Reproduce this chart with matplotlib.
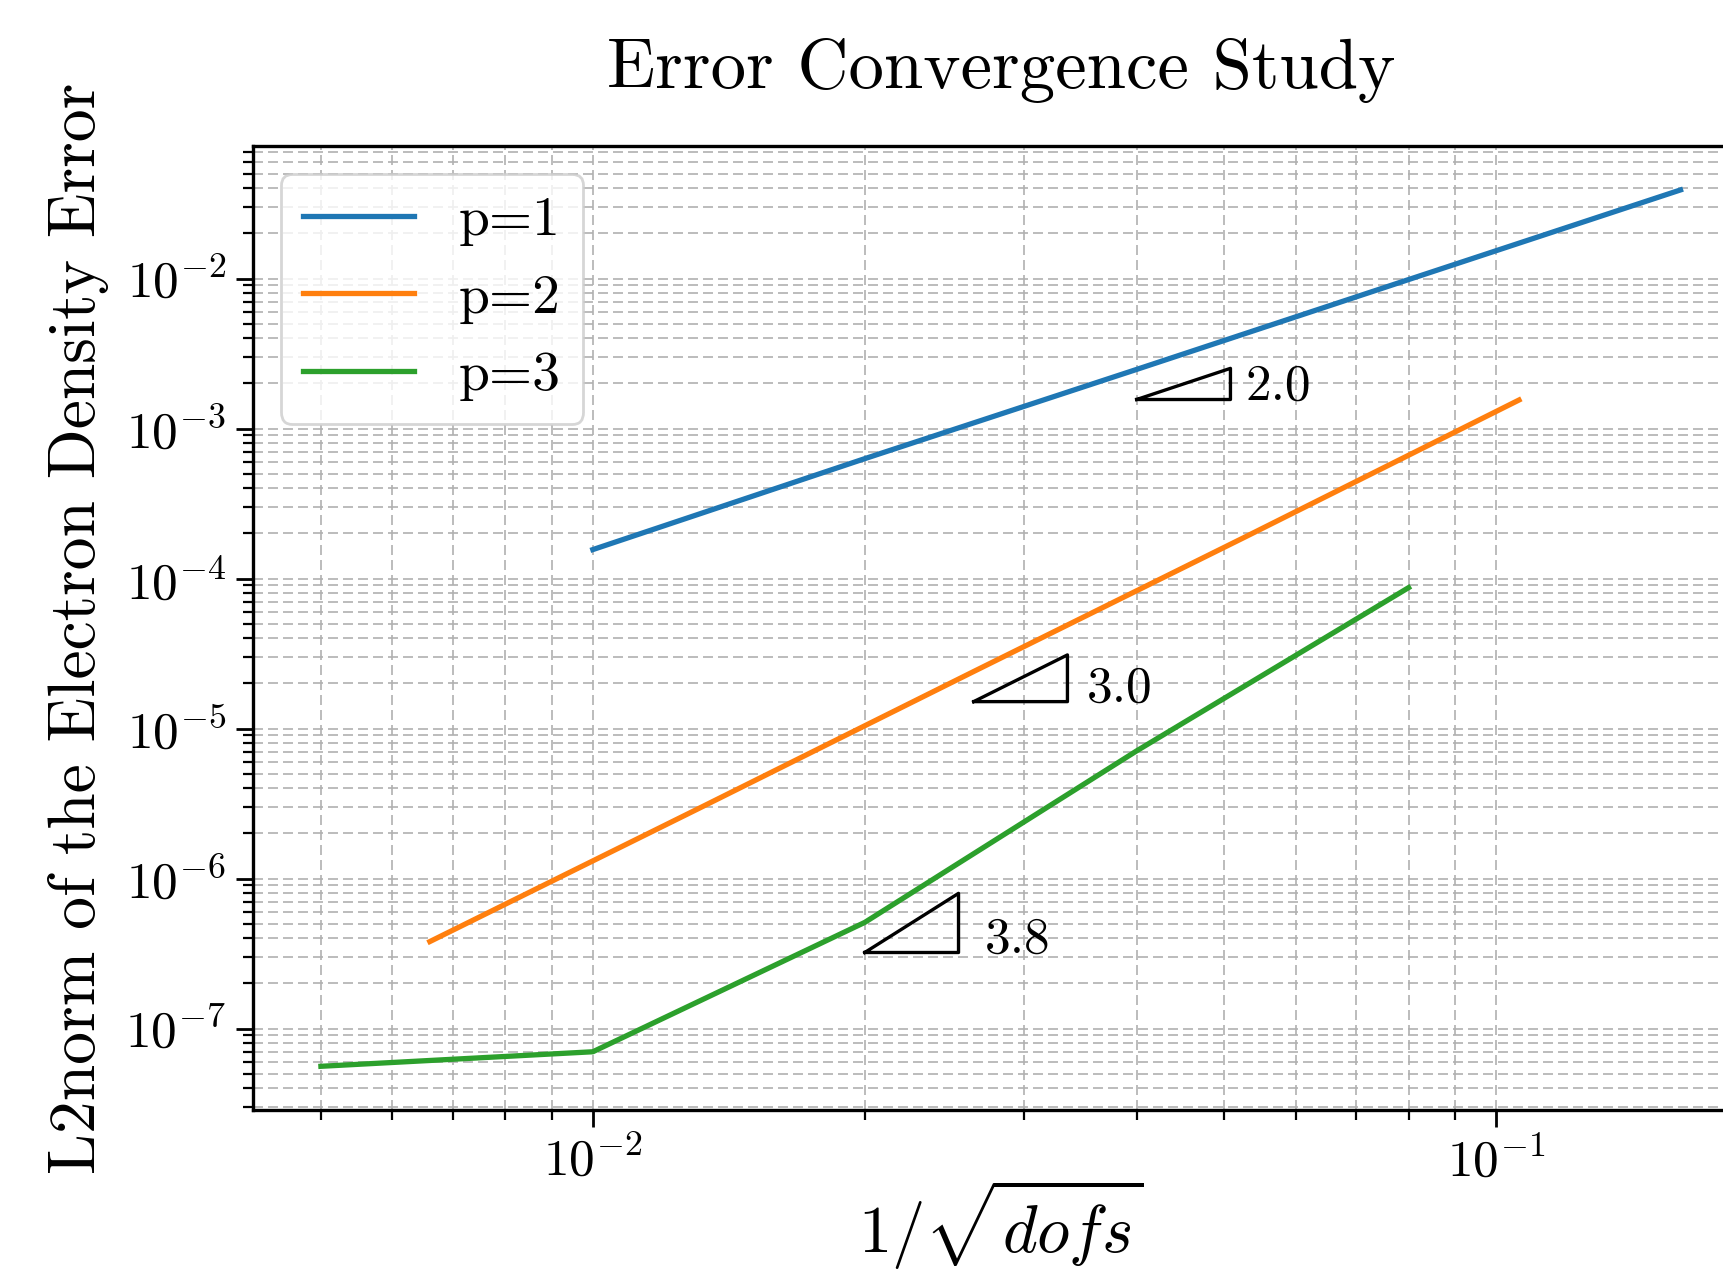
import numpy as np
import matplotlib
matplotlib.use("Agg")
import matplotlib.pyplot as plt

# ---- data ----
series_labels = ["p=1", "p=2", "p=3"]
h_p1 = [0.01, 0.02, 0.04, 0.08, 0.16]
err_p1 = [1.56e-4, 6.3e-4, 2.48e-3, 9.85e-3, 3.9e-2]
h_p2 = [0.0066, 0.0132, 0.0264, 0.0528, 0.106]
err_p2 = [3.8e-7, 3.0e-6, 2.4e-5, 1.9e-4, 1.55e-3]
h_p3 = [0.005, 0.01, 0.02, 0.04, 0.08]
err_p3 = [5.6e-8, 7.0e-8, 5.1e-7, 7.1e-6, 8.7e-5]
rates = [2.0, 3.0, 3.8]
rate_labels = ["2.0", "3.0", "3.8"]

plt.rcParams["font.family"] = "serif"
plt.rcParams["font.serif"] = ["cmr10"]
plt.rcParams["mathtext.fontset"] = "cm"
plt.rcParams["axes.formatter.use_mathtext"] = True
plt.rcParams["axes.unicode_minus"] = True

W, H, DPI = 1723, 1276, 200
fig = plt.figure(figsize=(W / DPI, H / DPI), dpi=DPI)
ax = fig.add_axes([0.1468, 0.130, 0.868, 0.7555])

colors = ["#1f77b4", "#ff7f0e", "#2ca02c"]
hs = [h_p1, h_p2, h_p3]
errs = [err_p1, err_p2, err_p3]
for h, e, c, lab in zip(hs, errs, colors, series_labels):
    ax.plot(h, e, color=c, lw=1.9, label=lab, zorder=3)

ax.set_xscale("log")
ax.set_yscale("log")

# slope triangles
gaps = [1.04, 1.05, 1.07]
for h, e, r, rl, g in zip(hs, errs, rates, rate_labels, gaps):
    x0 = h[2]
    x1 = x0 * 1.27
    y0 = e[2] * 0.63
    y1 = y0 * 1.27 ** r
    ax.plot([x0, x1, x1, x0], [y0, y0, y1, y0], color="k", lw=1.2, zorder=4)
    ax.text(x1 * g, y0, rl, fontsize=18.5, ha="left", va="baseline")

ax.grid(True, which="both", color="#b0b0b0", ls=(0, (6, 3)), lw=0.6)
ax.tick_params(which="major", length=6, width=1.0, labelsize=18.5, direction="out")
ax.tick_params(which="minor", length=3.5, width=0.8, direction="out")
for sp in ax.spines.values():
    sp.set_linewidth(1.2)

ax.set_title("Error Convergence Study", fontsize=25.5, pad=21)
ax.set_xlabel(r"$1/\sqrt{dofs}$", fontsize=24, labelpad=-3)
ax.set_ylabel("L2norm of the Electron Density Error", fontsize=23.6, labelpad=6)

leg = ax.legend(loc="upper left", fontsize=20)

fig.savefig("out.png", dpi=DPI)
